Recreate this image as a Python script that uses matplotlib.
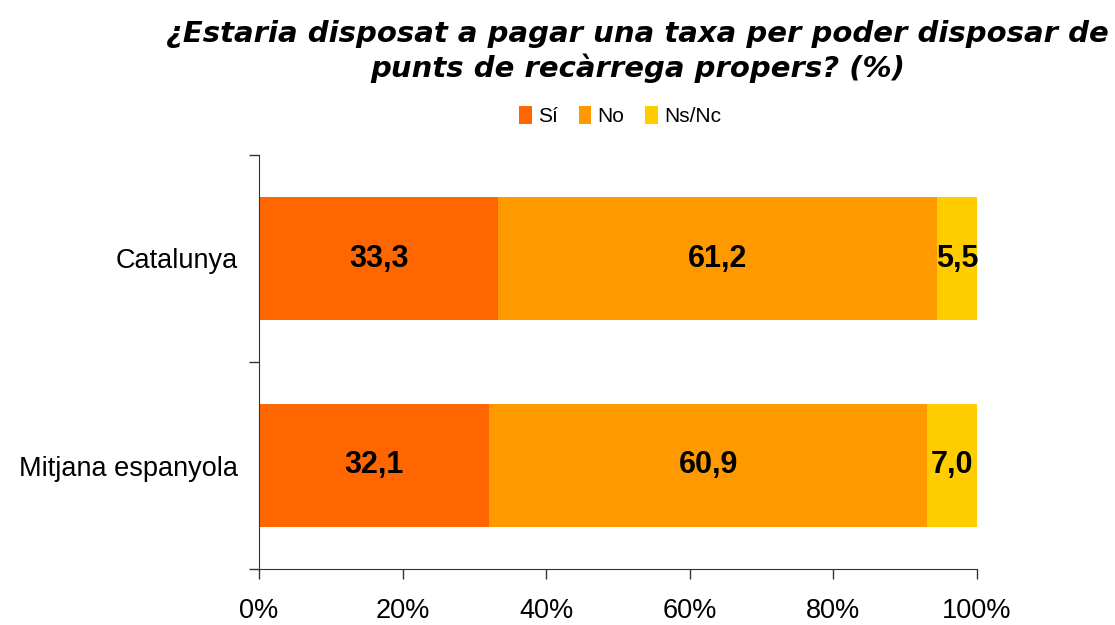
import matplotlib
matplotlib.use('Agg')
import matplotlib.pyplot as plt

# survey answers (%)
categories = ['Catalunya', 'Mitjana espanyola']
si = [33.3, 32.1]
no = [61.2, 60.9]
nsnc = [5.5, 7.0]
series_names = ['Sí', 'No', 'Ns/Nc']
colors = ['#FF6600', '#FF9900', '#FFCC00']

plt.rcParams['font.family'] = ['Liberation Sans', 'DejaVu Sans']

fig = plt.figure(figsize=(11.15, 6.25), dpi=100)
ax = fig.add_axes([0.2323, 0.0896, 0.6439, 0.6624])

ypos = [1, 0]  # Catalunya on top
left = [0, 0]
for name, vals, col in zip(series_names, [si, no, nsnc], colors):
    bars = ax.barh(ypos, vals, left=left, height=0.59, color=col, label=name)
    ax.bar_label(bars, labels=[f'{v:.1f}'.replace('.', ',') for v in vals],
                 label_type='center', fontsize=22, fontweight='bold')
    left = [a + b for a, b in zip(left, vals)]

ax.set_xlim(0, 100)
ax.set_ylim(-0.5, 1.5)
ax.set_xticks(range(0, 101, 20))
ax.set_xticklabels([f'{t}%' for t in range(0, 101, 20)], fontsize=19.5)
ax.set_yticks(ypos)
ax.set_yticklabels(categories, fontsize=19.5)
ax.set_yticks([-0.5, 0.5, 1.5], minor=True)
ax.tick_params(axis='y', which='major', length=0, pad=15)
ax.tick_params(axis='y', which='minor', length=7, width=1, color='#333333')
ax.tick_params(axis='x', length=7, width=1, color='#333333', pad=14)
for side in ['top', 'right']:
    ax.spines[side].set_visible(False)
for side in ['left', 'bottom']:
    ax.spines[side].set_color('#333333')

fig.text(0.572, 0.918,
         '¿Estaria disposat a pagar una taxa per poder disposar de\n'
         'punts de recàrrega propers? (%)',
         ha='center', va='center', fontsize=21, fontweight='bold',
         fontstyle='italic', family=['DejaVu Sans'],
         linespacing=1.25)

fig.legend(loc='center', bbox_to_anchor=(0.556, 0.814), ncol=3,
           frameon=False, fontsize=15, handlelength=0.6, handleheight=0.9,
           handletextpad=0.3, columnspacing=1.0)

fig.savefig('out.png', dpi=100)
